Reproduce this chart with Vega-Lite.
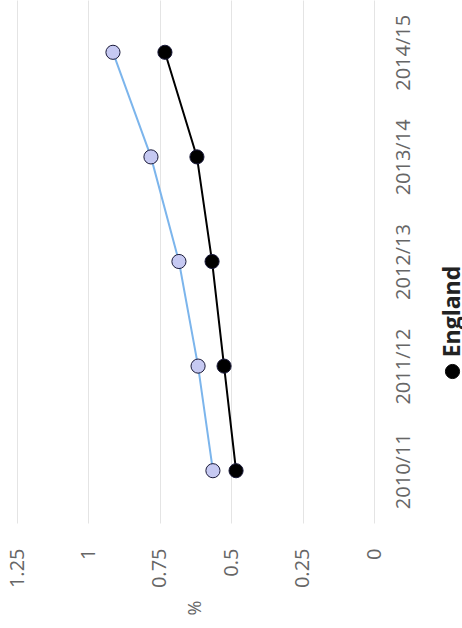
{
  "$schema": "https://vega.github.io/schema/vega-lite/v6.json",
  "width": 357,
  "height": 523,
  "autosize": "none",
  "padding": {"left": 17, "top": 0, "right": 88, "bottom": 105},
  "background": "white",
  "config": {
    "view": {"stroke": null},
    "font": "Open Sans"
  },
  "data": {
    "values": [
      {"year": "2010/11", "series": "England", "value": 0.483},
      {"year": "2011/12", "series": "England", "value": 0.525},
      {"year": "2012/13", "series": "England", "value": 0.567},
      {"year": "2013/14", "series": "England", "value": 0.620},
      {"year": "2014/15", "series": "England", "value": 0.732},
      {"year": "2010/11", "series": "Local", "value": 0.564},
      {"year": "2011/12", "series": "Local", "value": 0.616},
      {"year": "2012/13", "series": "Local", "value": 0.683},
      {"year": "2013/14", "series": "Local", "value": 0.781},
      {"year": "2014/15", "series": "Local", "value": 0.914}
    ]
  },
  "encoding": {
    "y": {
      "field": "year",
      "type": "ordinal",
      "sort": "descending",
      "scale": {"type": "point", "padding": 0.5},
      "axis": {
        "orient": "right",
        "title": "England",
        "titleAngle": -90,
        "titleAlign": "center",
        "titleBaseline": "middle",
        "titleX": 78,
        "titleY": 311,
        "titleFont": "Open Sans",
        "titleFontSize": 23,
        "titleFontWeight": "bold",
        "titleColor": "#222222",
        "labelAngle": -90,
        "labelAlign": "center",
        "labelBaseline": "top",
        "labelFont": "Open Sans",
        "labelFontSize": 20,
        "labelColor": "#666666",
        "labelPadding": 19,
        "ticks": false,
        "tickSize": 0,
        "domain": false,
        "grid": false
      }
    },
    "x": {
      "field": "value",
      "type": "quantitative",
      "scale": {"domain": [0, 1.25], "reverse": true, "nice": false, "zero": true},
      "axis": {
        "orient": "bottom",
        "values": [0, 0.25, 0.5, 0.75, 1, 1.25],
        "format": ".3~g",
        "title": "%",
        "titleAngle": -90,
        "titleBaseline": "middle",
        "titleFont": "Open Sans",
        "titleFontSize": 18,
        "titleFontWeight": "normal",
        "titleColor": "#666666",
        "titlePadding": 20,
        "labelAngle": -90,
        "labelAlign": "right",
        "labelBaseline": "middle",
        "labelFont": "Open Sans",
        "labelFontSize": 20,
        "labelColor": "#666666",
        "labelPadding": 25,
        "ticks": false,
        "tickSize": 0,
        "domain": false,
        "grid": true,
        "gridColor": "#e4e4e4",
        "gridWidth": 1
      }
    }
  },
  "layer": [
    {
      "mark": {"type": "line", "strokeWidth": 2},
      "encoding": {
        "color": {
          "field": "series",
          "type": "nominal",
          "scale": {"domain": ["Local", "England"], "range": ["#7cb5ec", "#000000"]},
          "legend": null
        },
        "detail": {"field": "series"}
      }
    },
    {
      "mark": {"type": "point", "filled": true, "size": 200, "stroke": "#1a1a3a", "strokeWidth": 1, "opacity": 1},
      "encoding": {
        "fill": {
          "field": "series",
          "type": "nominal",
          "scale": {"domain": ["England", "Local"], "range": ["#000000", "#c6c9f2"]},
          "legend": {
            "values": ["England"],
            "title": null,
            "orient": "none",
            "legendX": 425,
            "legendY": 361,
            "padding": 0,
            "symbolType": "circle",
            "symbolSize": 200,
            "symbolStrokeColor": "#000000",
            "symbolStrokeWidth": 1,
            "labelExpr": "''",
            "labelFontSize": 21
          }
        }
      }
    }
  ]
}
